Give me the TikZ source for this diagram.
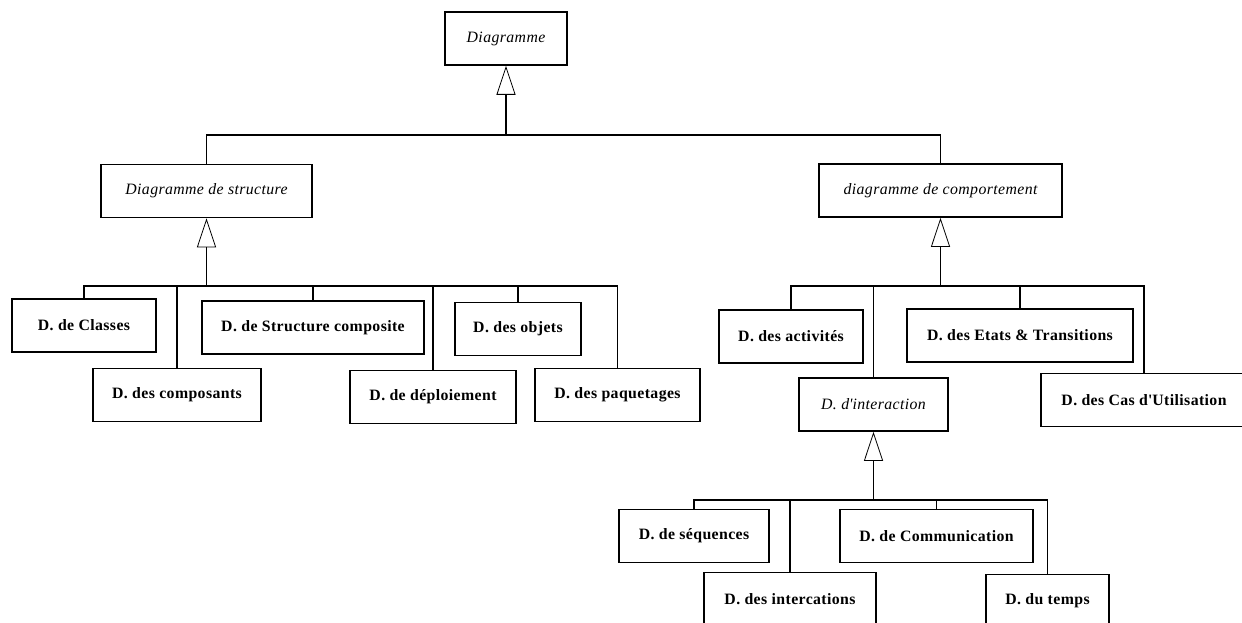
\documentclass[tikz,border=0pt]{standalone}
\usepackage{fontspec}
\setmainfont{Liberation Serif}[LetterSpace=2.5]
\usetikzlibrary{arrows.meta}
\tikzset{
  box/.style={draw, line width=1.6pt, minimum height=53pt, inner sep=0pt,
    font=\fontsize{15.8}{18}\selectfont\bfseries},
  abox/.style={box, font=\fontsize{15.8}{18}\selectfont\itshape},
  wire/.style={line width=1.6pt},
  gen/.style={line width=1.6pt, -{Triangle[open, length=29pt, width=19pt, line width=0.8pt]}}
}
\newcommand{\apos}{\textquotesingle}
\begin{document}
\begin{tikzpicture}[x=1pt, y=-1pt]
\useasboundingbox (0,0) rectangle (1242,623);
% nodes
\node[abox, minimum width=122pt] (diag) at (506,38.5) {Diagramme};
\node[abox, minimum width=211pt] (struct) at (206.5,191) {Diagramme de structure};
\node[abox, minimum width=243pt] (comp) at (940.5,190.5) {diagramme de comportement};

\node[box, minimum width=144pt] (classes) at (84,325.5) {D. de Classes};
\node[box, minimum width=168pt] (composants) at (177,395) {D. des composants};
\node[box, minimum width=222pt] (structcomp) at (313,327.5) {D. de Structure composite};
\node[box, minimum width=166pt] (deploi) at (433,397) {D. de déploiement};
\node[box, minimum width=126pt] (objets) at (518,329) {D. des objets};
\node[box, minimum width=165pt] (paquet) at (617.5,395) {D. des paquetages};

\node[box, minimum width=144pt] (activ) at (791,336.5) {D. des activités};
\node[abox, minimum width=149pt] (interact) at (873.5,404.5) {D. d\apos interaction};
\node[box, minimum width=226pt] (etats) at (1020,335.5) {D. des Etats \& Transitions};
\node[box, minimum width=206pt] (cas) at (1144,400) {D. des Cas d\apos Utilisation};

\node[box, minimum width=150pt] (seq) at (694,536) {D. de séquences};
\node[box, minimum width=172pt] (intercat) at (790,599) {D. des intercations};
\node[box, minimum width=193pt] (commun) at (936.5,536) {D. de Communication};
\node[box, minimum width=123pt] (temps) at (1047.5,601) {D. du temps};

% bus coordinates
\coordinate (bus0) at (506,135);
\coordinate (bus1) at (206.5,286);
\coordinate (bus2) at (940.5,286);
\coordinate (bus3) at (873.5,500);

% level 0
\draw[gen] (bus0) -- (diag.south);
\draw[wire] (struct.north) -- (struct.north |- bus0) -- (comp.north |- bus0) -- (comp.north);

% structure
\draw[gen] (bus1) -- (struct.south);
\draw[wire] (classes.north) -- (classes.north |- bus1) -- (paquet.north |- bus1) -- (paquet.north);
\draw[wire] (composants.north) -- (composants.north |- bus1);
\draw[wire] (structcomp.north) -- (structcomp.north |- bus1);
\draw[wire] (deploi.north) -- (deploi.north |- bus1);
\draw[wire] (objets.north) -- (objets.north |- bus1);

% comportement
\draw[gen] (bus2) -- (comp.south);
\draw[wire] (activ.north) -- (activ.north |- bus2) -- (cas.north |- bus2) -- (cas.north);
\draw[wire] (interact.north) -- (interact.north |- bus2);
\draw[wire] (etats.north) -- (etats.north |- bus2);

% interaction
\draw[gen] (bus3) -- (interact.south);
\draw[wire] (seq.north) -- (seq.north |- bus3) -- (temps.north |- bus3) -- (temps.north);
\draw[wire] (intercat.north) -- (intercat.north |- bus3);
\draw[wire] (commun.north) -- (commun.north |- bus3);
\end{tikzpicture}
\end{document}
